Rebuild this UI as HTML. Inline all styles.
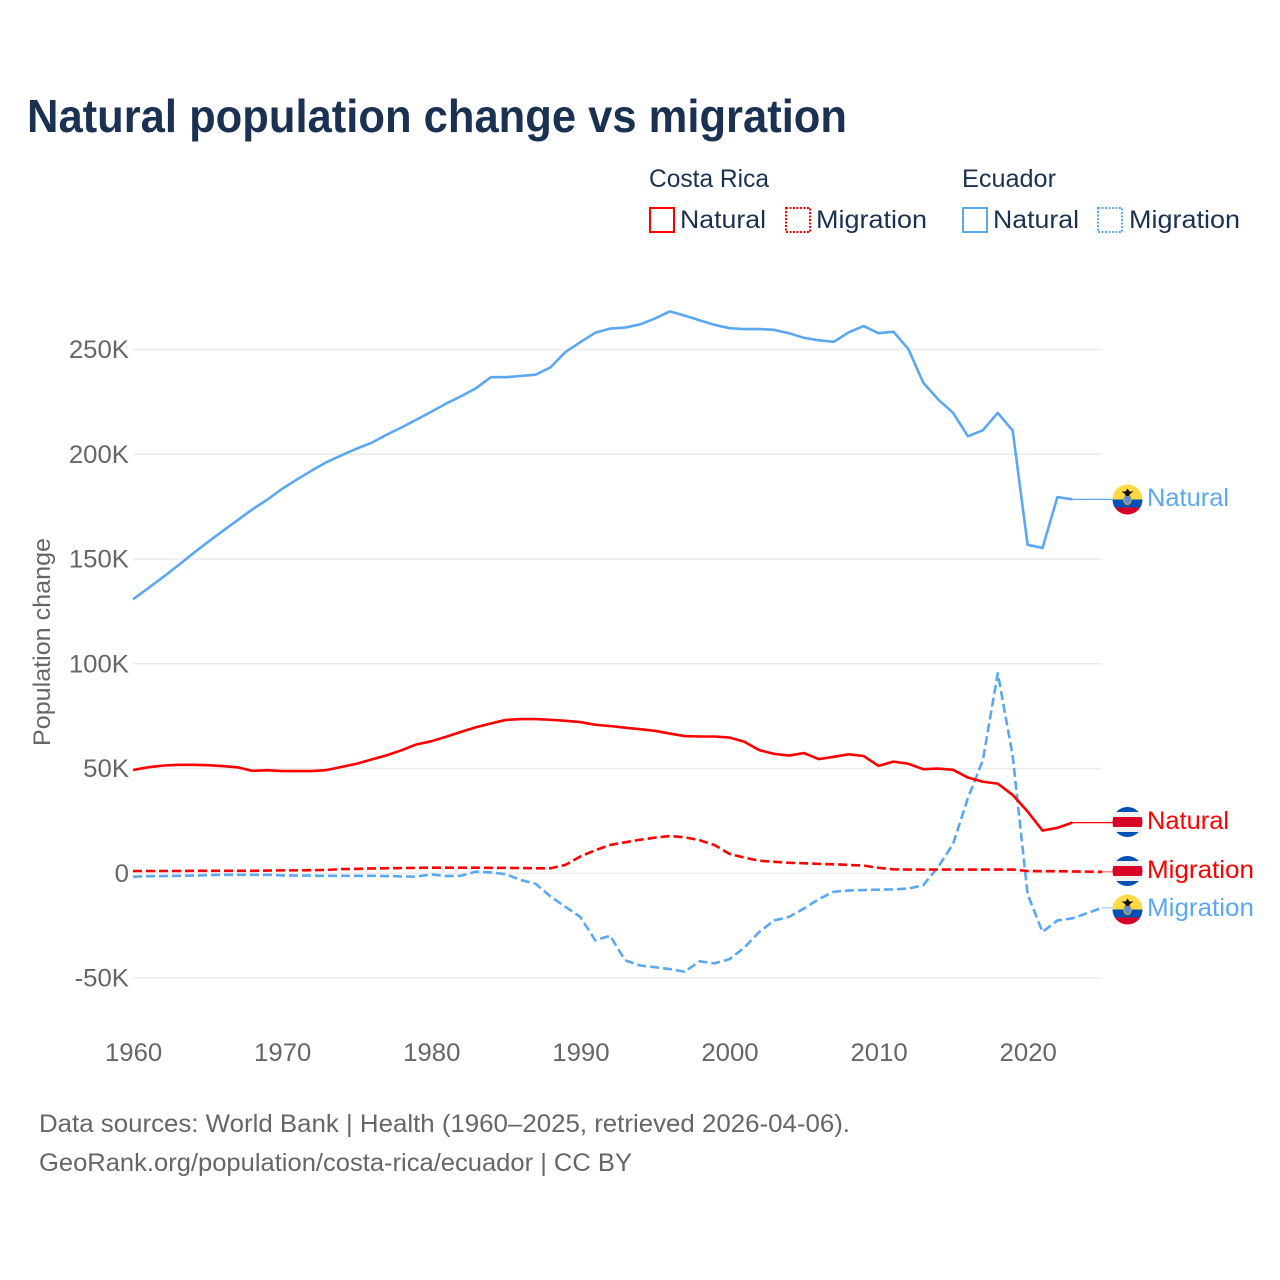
<!DOCTYPE html>
<html lang="en">
<head>
<meta charset="utf-8">
<title>Natural population change vs migration</title>
<style>
html,body{margin:0;padding:0;background:#fff;}
svg{display:block;}
text{font-family:"Liberation Sans",sans-serif;}
</style>
</head>
<body>
<svg id="chart" xmlns="http://www.w3.org/2000/svg" width="1280" height="1280" viewBox="0 0 1280 1280">
  <rect width="1280" height="1280" fill="#fff"/>
  <text x="27" y="132" font-size="46" font-weight="700" fill="#1a3151" textLength="820" lengthAdjust="spacingAndGlyphs">Natural population change vs migration</text>

  <g font-size="25" fill="#1a3151">
    <text x="649" y="187" textLength="120" lengthAdjust="spacingAndGlyphs">Costa Rica</text>
    <text x="962" y="187" textLength="94" lengthAdjust="spacingAndGlyphs">Ecuador</text>
    <rect x="650" y="208" width="24" height="24" fill="none" stroke="#ff0000" stroke-width="2"/>
    <text x="680" y="228" textLength="86" lengthAdjust="spacingAndGlyphs">Natural</text>
    <rect x="786" y="208" width="24" height="24" fill="none" stroke="#ff0000" stroke-width="2" stroke-dasharray="2 1.5"/>
    <text x="816" y="228" textLength="111" lengthAdjust="spacingAndGlyphs">Migration</text>
    <rect x="963" y="208" width="24" height="24" fill="none" stroke="#5ba8f0" stroke-width="2"/>
    <text x="993" y="228" textLength="86" lengthAdjust="spacingAndGlyphs">Natural</text>
    <rect x="1098" y="208" width="24" height="24" fill="none" stroke="#5ba8f0" stroke-width="2" stroke-dasharray="2 1.5"/>
    <text x="1129" y="228" textLength="111" lengthAdjust="spacingAndGlyphs">Migration</text>
  </g>

  <text transform="translate(50,642) rotate(-90)" text-anchor="middle" font-size="24" fill="#666" textLength="208" lengthAdjust="spacingAndGlyphs">Population change</text>

  <g id="grid"></g>
  <g id="yticks"></g>
  <g id="xticks"></g>
  <g id="series"></g>

  <defs>
    <clipPath id="flag-clip"><circle cx="0" cy="0" r="15"/></clipPath>
  </defs>
  <g id="endlabels"></g>

  <text x="39" y="1132" font-size="25" fill="#666" textLength="811" lengthAdjust="spacingAndGlyphs">Data sources: World Bank | Health (1960–2025, retrieved 2026-04-06).</text>
  <text x="39" y="1171" font-size="25" fill="#666" textLength="593" lengthAdjust="spacingAndGlyphs">GeoRank.org/population/costa-rica/ecuador | CC BY</text>
</svg>

<script>
const startYear = 1960;
const xTickYears = [1960, 1970, 1980, 1990, 2000, 2010, 2020];
const yTickValues = [-50, 0, 50, 100, 150, 200, 250];
const yTickLabels = ["-50K", "0", "50K", "100K", "150K", "200K", "250K"];

const costaRicaNatural = [49.3,50.6,51.4,51.8,51.8,51.6,51.2,50.6,48.9,49.2,48.8,48.8,48.8,49.3,50.8,52.3,54.3,56.3,58.7,61.5,63,65.2,67.5,69.7,71.5,73.2,73.6,73.6,73.3,72.8,72.2,70.9,70.3,69.5,68.8,68,66.7,65.5,65.3,65.3,64.8,62.8,58.8,57,56.2,57.4,54.5,55.6,56.8,56,51.3,53.3,52.3,49.7,50,49.4,45.7,43.7,42.8,37.4,29.5,20.4,21.7,24.2];
const costaRicaMigration = [1.1,1.1,1.1,1.1,1.2,1.2,1.2,1.2,1.2,1.3,1.4,1.4,1.5,1.6,2,2.1,2.3,2.4,2.5,2.6,2.7,2.7,2.7,2.7,2.6,2.6,2.5,2.4,2.4,4,8,11,13.5,14.8,16,17,17.8,17.2,15.8,13.5,9.3,7.5,6,5.5,5,4.8,4.5,4.3,4,3.7,2.6,1.9,1.8,1.8,1.8,1.8,1.8,1.8,1.8,1.8,1.1,1,1,0.9,0.8,0.7];
const ecuadorNatural = [130.8,136,141.3,146.8,152.5,158,163.3,168.5,173.7,178.3,183.5,188,192.3,196.3,199.6,202.7,205.5,209.3,212.8,216.5,220.3,224.2,227.7,231.5,236.8,236.8,237.4,238,241.5,248.8,253.5,258,260,260.5,262,264.8,268.2,266.2,264,261.8,260.2,259.8,259.8,259.4,257.8,255.6,254.4,253.7,258.2,261.2,257.8,258.5,250.3,234.2,226.2,219.8,208.6,211.5,219.8,211.3,156.8,155.3,179.6,178.5];
const ecuadorMigration = [-1.6,-1.4,-1.3,-1.2,-1.1,-0.9,-0.7,-0.7,-0.7,-0.7,-1,-1.1,-1.1,-1.2,-1.2,-1.2,-1.2,-1.3,-1.5,-1.6,-0.5,-1.3,-1.2,0.8,0.4,-0.4,-3.2,-5,-11,-16,-20.8,-32,-29.8,-41.5,-44,-44.8,-45.7,-47,-42,-43,-41,-35.5,-28,-22.5,-20.8,-16.8,-12.3,-8.8,-8.2,-8,-7.8,-7.7,-7.3,-5.7,3,14,36,54,95.5,56,-10,-28,-22.5,-21.5,-19,-16.5];

const NS = "http://www.w3.org/2000/svg";
const xScale = yr => 133 + (yr - startYear) * 14.91;
const yScale = v => 873.3 - v * 2.095;
const RED = "#ff0000", BLUE = "#5ba8f0";
const svgEl = (tag, attrs, parent) => {
  const el = document.createElementNS(NS, tag);
  for (const k in attrs) el.setAttribute(k, attrs[k]);
  parent.appendChild(el);
  return el;
};

const grid = document.getElementById("grid");
const yticks = document.getElementById("yticks");
const xticks = document.getElementById("xticks");
const seriesG = document.getElementById("series");
const endG = document.getElementById("endlabels");

yTickValues.forEach((v, i) => {
  const line = svgEl("line", {x1: 133, x2: 1102, y1: yScale(v), y2: yScale(v), stroke: "#ebebeb", "stroke-width": 1.5}, grid);
  
  
  const t = svgEl("text", {x: 129, y: yScale(v) + 8.5, "text-anchor": "end", "font-size": 25, fill: "#666"}, yticks);
  t.textContent = yTickLabels[i];
  
  
  t.setAttribute("textLength", t.getComputedTextLength() * 1.03);
  t.setAttribute("lengthAdjust", "spacingAndGlyphs");
});

xTickYears.forEach(yr => {
  const t = svgEl("text", {x: xScale(yr) + 0.6, y: 1061, "text-anchor": "middle", "font-size": 25, fill: "#666"}, xticks);
  t.textContent = String(yr);
  
  
  t.setAttribute("textLength", t.getComputedTextLength() * 1.03);
  t.setAttribute("lengthAdjust", "spacingAndGlyphs");
});

function drawSeries(values, color, dashed, name) {
  const d = values.map((v, i) => (i ? "L" : "M") + xScale(startYear + i).toFixed(2) + " " + yScale(v).toFixed(2)).join(" ");
  const p = svgEl("path", {d: d, fill: "none", stroke: color, "stroke-width": 2.6, "stroke-linejoin": "round"}, seriesG);
  if (dashed) p.setAttribute("stroke-dasharray", "9 4");
  
  
  const lastIdx = values.length - 1;
  const lastX = xScale(startYear + lastIdx), lastY = yScale(values[lastIdx]);
  const c = svgEl("line", {x1: lastX, y1: lastY, x2: 1113, y2: lastY, stroke: color, "stroke-width": 1.3, opacity: dashed ? 0.55 : 1}, seriesG);
  
  
}
drawSeries(ecuadorNatural, BLUE, false, "ecuador-natural-line");
drawSeries(ecuadorMigration, BLUE, true, "ecuador-migration-line");
drawSeries(costaRicaNatural, RED, false, "costa-rica-natural-line");
drawSeries(costaRicaMigration, RED, true, "costa-rica-migration-line");

function flag(country, cy) {
  const g = svgEl("g", {transform: "translate(1127.5," + cy + ")", "clip-path": "url(#flag-clip)"}, endG);
  
  
  const band = (y, h, fill) => svgEl("rect", {x: -16, y: y, width: 32, height: h, fill: fill}, g);
  if (country === "ecuador") {
    band(-16, 16, "#ffda44");
    band(0, 8, "#0052b4");
    band(8, 8, "#d80027");
    svgEl("ellipse", {cx: 0, cy: 0, rx: 3.8, ry: 5, fill: "#5c8fd6", stroke: "#d9b23a", "stroke-width": 1}, g);
    svgEl("path", {d: "M-6 -8 L6 -8 L2.5 -5.5 L1.5 -3.5 L-1.5 -3.5 L-2.5 -5.5 Z M-2 -8 L0 -11 L2 -8 Z", fill: "#111"}, g);
  } else {
    band(-16, 6, "#0052b4");
    band(-10, 5, "#f0f0f0");
    band(-5, 10, "#d80027");
    band(5, 5, "#f0f0f0");
    band(10, 6, "#0052b4");
  }
}
function endLabel(text, color, baseline, width, name) {
  const t = svgEl("text", {x: 1147, y: baseline, "font-size": 25, fill: color, textLength: width, lengthAdjust: "spacingAndGlyphs"}, endG);
  t.textContent = text;
  
  
}
flag("ecuador", 499.5);
endLabel("Natural", BLUE, 506, 82, "end-label-ecuador-natural");
flag("costa-rica", 822);
endLabel("Natural", RED, 829, 82, "end-label-costa-rica-natural");
flag("costa-rica", 871);
endLabel("Migration", RED, 878, 107, "end-label-costa-rica-migration");
flag("ecuador", 909.5);
endLabel("Migration", BLUE, 916, 107, "end-label-ecuador-migration");
</script>
</body>
</html>
